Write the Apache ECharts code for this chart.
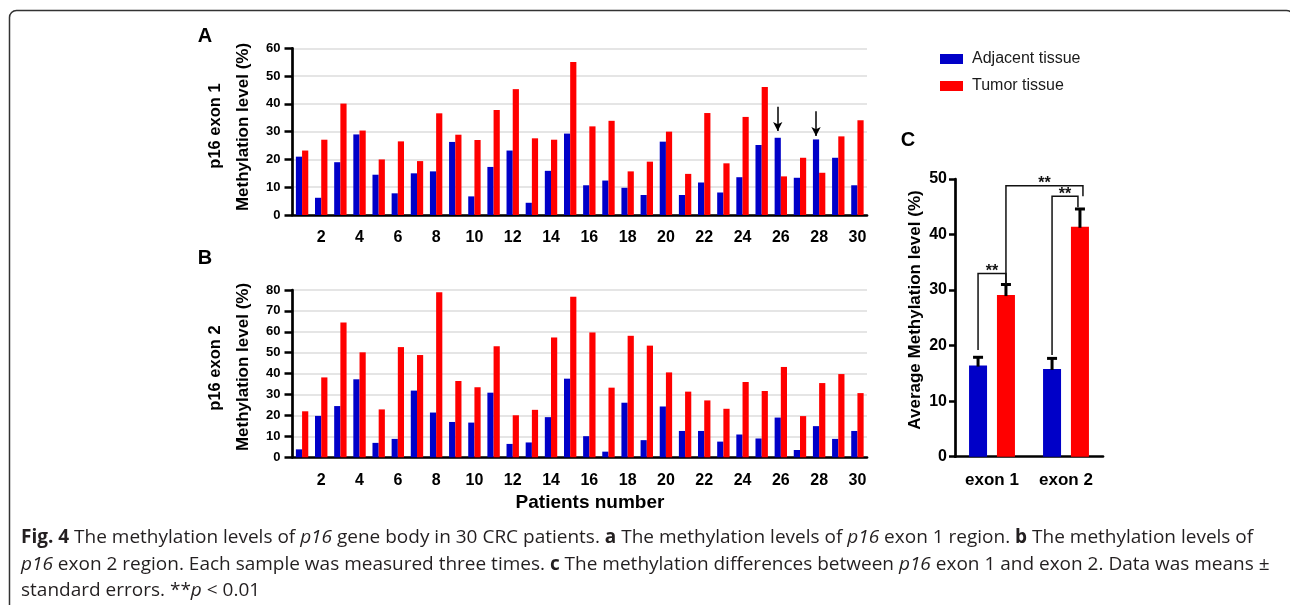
<!DOCTYPE html>
<html><head><meta charset="utf-8">
<script src="https://cdn.jsdelivr.net/npm/echarts@6/dist/echarts.min.js"></script>
<style>html,body{margin:0;padding:0;background:#fff}#c{width:1290px;height:605px}</style>
</head><body><div id="c"></div>
<script>
// ---------- data ----------
const patients = Array.from({length: 30}, (_, i) => String(i + 1));
const exon1Adjacent = [21.0, 6.2, 19.0, 29.0, 14.5, 7.8, 15.0, 15.7, 26.3, 6.7, 17.3, 23.2, 4.4, 15.9, 29.3, 10.7, 12.4, 9.8, 7.2, 26.4, 7.2, 11.7, 8.1, 13.6, 25.2, 27.8, 13.4, 27.2, 20.6, 10.7];
const exon1Tumor    = [23.2, 27.1, 40.1, 30.4, 20.0, 26.5, 19.4, 36.6, 28.9, 27.0, 37.8, 45.3, 27.6, 27.1, 55.1, 31.9, 33.9, 15.7, 19.2, 30.0, 14.8, 36.7, 18.6, 35.3, 46.1, 13.9, 20.6, 15.2, 28.3, 34.1];
const exon2Adjacent = [3.8, 19.8, 24.5, 37.3, 6.9, 8.8, 31.9, 21.4, 16.9, 16.6, 30.9, 6.4, 7.1, 19.2, 37.6, 10.1, 2.7, 26.1, 8.2, 24.3, 12.6, 12.6, 7.5, 10.9, 9.0, 19.0, 3.5, 14.9, 8.8, 12.6];
const exon2Tumor    = [22.0, 38.2, 64.5, 50.2, 22.9, 52.7, 48.9, 78.9, 36.5, 33.5, 53.1, 20.1, 22.7, 57.3, 76.8, 59.7, 33.3, 58.1, 53.4, 40.6, 31.4, 27.2, 23.2, 36.0, 31.7, 43.2, 19.7, 35.5, 39.8, 30.7];
const arrowPatients = ['26', '28'];
const arrowFrom = [39.0, 37.3];
const arrowTo = [30.2, 28.4];
const exonCategories = ['exon 1', 'exon 2'];
const avgAdjacent = [16.4, 15.8];
const seAdjacent = [1.5, 1.9];
const avgTumor = [29.1, 41.4];
const seTumor = [1.9, 3.2];
// [fromCategory, fromGroup(0=adjacent,1=tumor), fromY, toCategory, toGroup, toY, bracketTopY]
const sigPairs = [
  [0, 0, 19.2, 0, 1, 31.2, 33.0],
  [1, 0, 18.3, 1, 1, 44.9, 46.9],
  [0, 1, 30.9, 1, 1, 46.9, 48.8]
];
const sigLabels = ['**', '**', '**'];
const seriesNames = ['Adjacent tissue', 'Tumor tissue'];

// ---------- layout / style ----------
const FONT = '"Liberation Sans", Arial, sans-serif';
const CAP_FONT = '"Open Sans", sans-serif';
const CAP_SIZE = 19;
const BLUE = '#0000c8', RED = '#ff0000', INK = '#000';
const C_BAR_W = 18, C_BAR_GAP = 0.55;
const C_OFFSET = (C_BAR_W + C_BAR_W * C_BAR_GAP) / 2;
const sigRightNudge = [0, -2, 3];

function catAxis(gi) {
  return {
    type: 'category', gridIndex: gi, data: patients,
    axisLine: {lineStyle: {color: INK, width: 2.7}},
    axisTick: {alignWithLabel: true, interval: 0, length: 8, lineStyle: {color: INK, width: 2.5}},
    axisLabel: {interval: (i) => i % 2 === 1, fontSize: 16, fontWeight: 'bold', color: INK, fontFamily: FONT, margin: 15},
    splitLine: {show: false}
  };
}
function valAxis(gi, max) {
  return {
    type: 'value', gridIndex: gi, min: 0, max: max, interval: 10,
    axisLine: {show: true, lineStyle: {color: INK, width: 2.7}},
    axisTick: {show: true, length: 8, lineStyle: {color: INK, width: 2.5}},
    axisLabel: {fontSize: 13, fontWeight: 'bold', color: INK, fontFamily: FONT, margin: 12},
    splitLine: {show: true, lineStyle: {color: '#dcdcdc', width: 1.5}}
  };
}
function barSeries(name, data, gi, color, extra) {
  return Object.assign({
    type: 'bar', name: name, xAxisIndex: gi, yAxisIndex: gi, data: data,
    barWidth: 6.2, barGap: '0%', itemStyle: {color: color}, silent: true
  }, extra || {});
}
function errSeries(means, ses, sign) {
  return {
    type: 'custom', xAxisIndex: 2, yAxisIndex: 2, silent: true, z: 3, clip: false,
    data: means.map((m, i) => [i, m, ses[i]]),
    renderItem: (params, api) => {
      const i = api.value(0), m = api.value(1), s = api.value(2);
      const base = api.coord([i, m]);
      const top = api.coord([i, m + s]);
      const x = base[0] + sign * C_OFFSET;
      return {type: 'group', children: [
        {type: 'line', shape: {x1: x, y1: base[1] + 1, x2: x, y2: top[1]}, style: {stroke: INK, lineWidth: 3}},
        {type: 'line', shape: {x1: x - 5, y1: top[1], x2: x + 5, y2: top[1]}, style: {stroke: INK, lineWidth: 3}}
      ]};
    }
  };
}

const option = {
  animation: false,
  backgroundColor: '#fff',
  textStyle: {fontFamily: FONT},
  legend: {
    data: seriesNames, orient: 'vertical', left: 935, top: 45,
    itemWidth: 23, itemHeight: 10, itemGap: 9, icon: 'rect', selectedMode: false,
    textStyle: {fontSize: 16, color: '#1a1a1a', fontFamily: FONT, lineHeight: 18, padding: [0, 0, 0, 4]}
  },
  grid: [
    {left: 292.5, top: 48.3, width: 574.5, height: 166.7},
    {left: 292.5, top: 290, width: 574.5, height: 167.3},
    {left: 955, top: 179, width: 148, height: 277.7}
  ],
  xAxis: [catAxis(0), catAxis(1), {
    type: 'category', gridIndex: 2, data: exonCategories,
    axisLine: {lineStyle: {color: INK, width: 2.7}},
    axisTick: {alignWithLabel: true, length: 7, lineStyle: {color: INK, width: 2.5}},
    axisLabel: {fontSize: 17, fontWeight: 'bold', color: INK, fontFamily: FONT, margin: 15}
  }],
  yAxis: [valAxis(0, 60), valAxis(1, 80), {
    type: 'value', gridIndex: 2, min: 0, max: 50, interval: 10,
    axisLine: {show: true, lineStyle: {color: INK, width: 2.7}},
    axisTick: {show: true, length: 6, lineStyle: {color: INK, width: 2.5}},
    axisLabel: {fontSize: 16, fontWeight: 'bold', color: INK, fontFamily: FONT, margin: 8},
    splitLine: {show: false}
  }],
  series: [
    barSeries(seriesNames[0], exon1Adjacent, 0, BLUE, {
      markLine: {
        silent: true, symbol: ['none', 'arrow'], symbolSize: [7, 9],
        label: {show: false}, emphasis: {disabled: true},
        lineStyle: {color: INK, width: 1.5, type: 'solid'},
        data: arrowPatients.map((p, i) => [{coord: [p, arrowFrom[i]]}, {coord: [p, arrowTo[i]]}])
      }
    }),
    barSeries(seriesNames[1], exon1Tumor, 0, RED),
    barSeries(seriesNames[0], exon2Adjacent, 1, BLUE),
    barSeries(seriesNames[1], exon2Tumor, 1, RED),
    {type: 'bar', name: seriesNames[0], xAxisIndex: 2, yAxisIndex: 2, data: avgAdjacent,
      barWidth: C_BAR_W, barGap: (C_BAR_GAP * 100) + '%', itemStyle: {color: BLUE}, silent: true},
    {type: 'bar', name: seriesNames[1], xAxisIndex: 2, yAxisIndex: 2, data: avgTumor,
      barWidth: C_BAR_W, barGap: (C_BAR_GAP * 100) + '%', itemStyle: {color: RED}, silent: true},
    errSeries(avgAdjacent, seAdjacent, -1),
    errSeries(avgTumor, seTumor, 1),
    {
      type: 'custom', xAxisIndex: 2, yAxisIndex: 2, silent: true, z: 4, clip: false,
      data: sigPairs.map((p) => [p[0], p[6]]),
      renderItem: (params, api) => {
        const k = params.dataIndex, p = sigPairs[k];
        const xL = api.coord([p[0], 0])[0] + (p[1] ? 1 : -1) * C_OFFSET;
        const xR = api.coord([p[3], 0])[0] + (p[4] ? 1 : -1) * C_OFFSET + sigRightNudge[k];
        const yL = api.coord([p[0], p[2]])[1];
        const yR = api.coord([p[3], p[5]])[1];
        const yT = api.coord([p[0], p[6]])[1];
        return {type: 'group', children: [
          {type: 'polyline', shape: {points: [[xL, yL], [xL, yT], [xR, yT], [xR, yR]]},
            style: {stroke: '#111', lineWidth: 1.5, fill: 'none'}},
          {type: 'text', style: {text: sigLabels[k], x: (xL + xR) / 2, y: yT - 2, align: 'center',
            verticalAlign: 'middle', fontSize: 16, fontWeight: 'bold', fontFamily: FONT, fill: '#111'}}
        ]};
      }
    }
  ],
  graphic: [
    {type: 'rect', silent: true, shape: {x: 9.5, y: 10.5, width: 1284, height: 640, r: 7},
      style: {fill: 'none', stroke: '#333', lineWidth: 1.5}},
    {type: 'text', x: 205, y: 36, style: {text: 'A', align: 'center', verticalAlign: 'middle', fontSize: 20, fontWeight: 'bold', fontFamily: FONT, fill: INK}},
    {type: 'text', x: 205, y: 258, style: {text: 'B', align: 'center', verticalAlign: 'middle', fontSize: 20, fontWeight: 'bold', fontFamily: FONT, fill: INK}},
    {type: 'text', x: 908, y: 140, style: {text: 'C', align: 'center', verticalAlign: 'middle', fontSize: 20, fontWeight: 'bold', fontFamily: FONT, fill: INK}},
    {type: 'text', x: 215, y: 126, rotation: Math.PI / 2, style: {text: 'p16 exon 1', x: 0, y: 0, align: 'center', verticalAlign: 'middle', fontSize: 16.5, fontWeight: 'bold', fontFamily: FONT, fill: INK}},
    {type: 'text', x: 243, y: 127, rotation: Math.PI / 2, style: {text: 'Methylation level (%)', x: 0, y: 0, align: 'center', verticalAlign: 'middle', fontSize: 17, fontWeight: 'bold', fontFamily: FONT, fill: INK}},
    {type: 'text', x: 215, y: 368, rotation: Math.PI / 2, style: {text: 'p16 exon 2', x: 0, y: 0, align: 'center', verticalAlign: 'middle', fontSize: 16.5, fontWeight: 'bold', fontFamily: FONT, fill: INK}},
    {type: 'text', x: 243, y: 367, rotation: Math.PI / 2, style: {text: 'Methylation level (%)', x: 0, y: 0, align: 'center', verticalAlign: 'middle', fontSize: 17, fontWeight: 'bold', fontFamily: FONT, fill: INK}},
    {type: 'text', x: 915, y: 310, rotation: Math.PI / 2, style: {text: 'Average Methylation level (%)', x: 0, y: 0, align: 'center', verticalAlign: 'middle', fontSize: 17, fontWeight: 'bold', fontFamily: FONT, fill: INK}},
    {type: 'text', x: 590, y: 503, style: {text: 'Patients number', align: 'center', verticalAlign: 'middle', fontSize: 19, fontWeight: 'bold', fontFamily: FONT, fill: INK}}
  ]
};

const capRich = {
  b: {fontFamily: CAP_FONT, fontSize: CAP_SIZE, fontWeight: 'bold', fill: '#231f20', color: '#231f20'},
  i: {fontFamily: CAP_FONT, fontSize: CAP_SIZE, fontStyle: 'italic', fill: '#231f20', color: '#231f20'},
  n: {fontFamily: CAP_FONT, fontSize: CAP_SIZE, fill: '#231f20', color: '#231f20'}
};
const capLines = [
  '{b|Fig. 4}{n| The methylation levels of }{i|p16}{n| gene body in 30 CRC patients. }{b|a}{n| The methylation levels of }{i|p16}{n| exon 1 region. }{b|b}{n| The methylation levels of}',
  '{i|p16}{n| exon 2 region. Each sample was measured three times. }{b|c}{n| The methylation differences between }{i|p16}{n| exon 1 and exon 2. Data was means ±}',
  '{n|standard errors. **}{i|p}{n| < 0.01}'
];
const capY = [538, 565, 591];
capLines.forEach((t, k) => {
  option.graphic.push({type: 'text', x: 21, y: capY[k], silent: true,
    style: {text: t, rich: capRich, x: 0, y: 0, align: 'left', verticalAlign: 'middle', fontFamily: CAP_FONT, fontSize: CAP_SIZE, fill: '#231f20'}});
});

const chart = echarts.init(document.getElementById('c'));
chart.setOption(option);
</script>
</body></html>
